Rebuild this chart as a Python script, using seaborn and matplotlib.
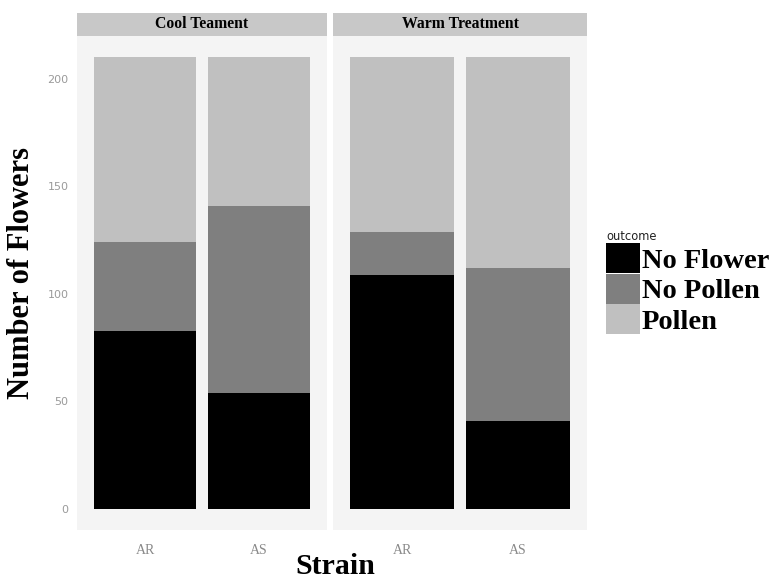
import matplotlib
matplotlib.use("Agg")
import matplotlib.pyplot as plt
from matplotlib.patches import Patch
import seaborn as sns
import pandas as pd

# ---- data ----
treatments = ["Cool Teament", "Warm Treatment"]
strains = ["AR", "AS"]
outcomes = ["No Flower", "No Pollen", "Pollen"]
no_flower = {"Cool Teament": [83, 54], "Warm Treatment": [109, 41]}
no_pollen = {"Cool Teament": [41, 87], "Warm Treatment": [20, 71]}
pollen = {"Cool Teament": [86, 69], "Warm Treatment": [81, 98]}
colors = {"No Flower": "#000000", "No Pollen": "#7f7f7f", "Pollen": "#c0c0c0"}
yticks = [0, 50, 100, 150, 200]

sns.set_style("white")
serif = ["Liberation Serif", "DejaVu Serif"]
W, H = 776, 581
fig = plt.figure(figsize=(W / 100, H / 100), dpi=100)
fig.patch.set_facecolor("white")

def fx(px):
    return px / W

def fy(py):
    return 1 - py / H

panel_x = [(77, 327), (333, 587)]
panel_top, panel_bot = 36, 530
strip_top = 13

for i, tr in enumerate(treatments):
    x0, x1 = panel_x[i]
    ax = fig.add_axes([fx(x0), fy(panel_bot), fx(x1 - x0), fy(panel_top) - fy(panel_bot)])
    ax.set_facecolor("#f4f4f4")
    df = pd.DataFrame({
        "strain": strains,
        "No Flower": no_flower[tr],
        "No Pollen": no_pollen[tr],
        "Pollen": pollen[tr],
    })
    df["c1"] = df["No Flower"]
    df["c2"] = df["c1"] + df["No Pollen"]
    df["c3"] = df["c2"] + df["Pollen"]
    for col, oc in zip(["c3", "c2", "c1"], ["Pollen", "No Pollen", "No Flower"]):
        sns.barplot(data=df, x="strain", y=col, order=strains, color=colors[oc],
                    width=0.9, saturation=1, errorbar=None, ax=ax, linewidth=0)
    ax.set_xlim(-0.6, 1.6)
    ax.set_ylim(-9.8, 220)
    ax.set_xlabel("")
    ax.set_ylabel("")
    for s in ax.spines.values():
        s.set_visible(False)
    ax.grid(False)
    ax.set_yticks(yticks)
    ax.tick_params(axis="both", length=3, width=0.6, color="#b0b0b0", direction="out", pad=3)
    ax.tick_params(axis="x", pad=7)
    if i == 0:
        ax.set_yticklabels([str(v) for v in yticks], fontsize=8, color="#9a9a9a",
                           family="DejaVu Sans")
    else:
        ax.tick_params(axis="y", left=False, labelleft=False)
    ax.set_xticks([0, 1])
    ax.set_xticklabels(strains, fontsize=10, color="#8a8a8a", family=serif)

    # strip
    sax = fig.add_axes([fx(x0), fy(panel_top), fx(x1 - x0), fy(strip_top) - fy(panel_top)])
    sax.set_facecolor("#c8c8c8")
    sax.set_xticks([])
    sax.set_yticks([])
    for s in sax.spines.values():
        s.set_visible(False)
    sax.text(0.5, 0.5, tr, ha="center", va="center", fontsize=11.3, fontweight="bold",
             family=serif, color="black", transform=sax.transAxes)

fig.text(fx(335), fy(566), "Strain", ha="center", va="center", fontsize=21.5,
         fontweight="bold", family=serif, color="black")
fig.text(fx(22), fy(273), "Number of Flowers", ha="center", va="center", rotation=90,
         fontsize=22, fontweight="bold", family=serif, color="black")

handles = [Patch(facecolor=colors[o], edgecolor="none") for o in outcomes]
leg = fig.legend(handles, outcomes, loc="upper left", bbox_to_anchor=(fx(606), fy(230)),
                 frameon=False, borderpad=0, handletextpad=0.05, labelspacing=0.0,
                 handleheight=1.25, handlelength=1.2, borderaxespad=0,
                 prop={"family": serif, "weight": "bold", "size": 20.5},
                 title="outcome", title_fontproperties={"family": "DejaVu Sans", "size": 8.3},
                 alignment="left")
for t in leg.get_texts():
    t.set_color("black")
leg.get_title().set_color("#222222")

fig.savefig("out.png", dpi=100)
